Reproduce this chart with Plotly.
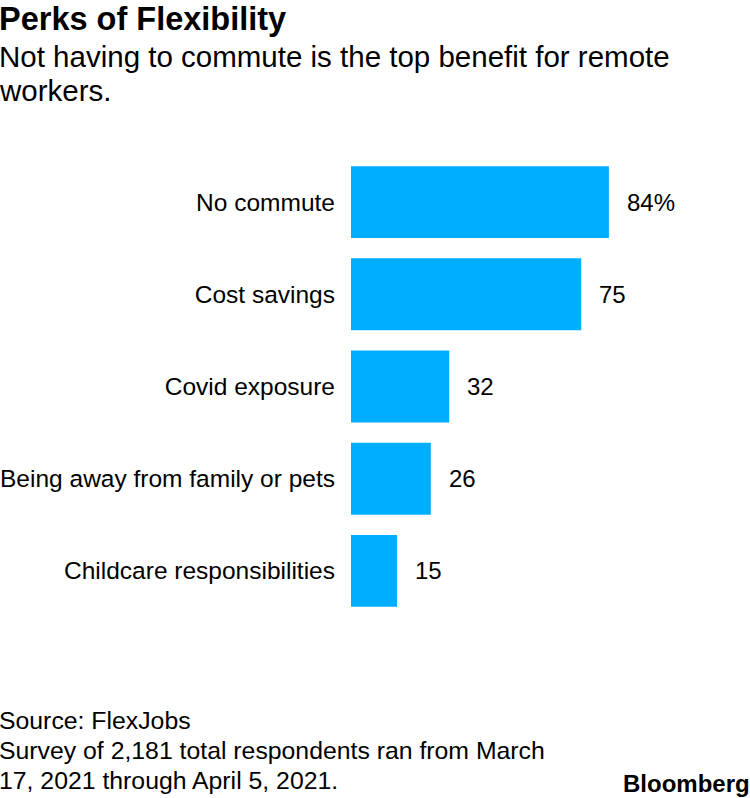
import plotly.graph_objects as go

categories = ["No commute", "Cost savings", "Covid exposure",
              "Being away from family or pets", "Childcare responsibilities"]
values = [84, 75, 32, 26, 15]
value_labels = ["84%", "75", "32", "26", "15"]

BAR_COLOR = "#00AEFF"
FONT = "Liberation Sans, Arial, Helvetica, sans-serif"

L, R, T, B = 351, 3, 156, 181
PW, PH = 750 - L - R, 798 - T - B

fig = go.Figure(go.Bar(
    x=values, y=categories, orientation="h",
    marker=dict(color=BAR_COLOR, line=dict(width=0)),
    width=0.78, hoverinfo="skip",
))

for v, c, t in zip(values, categories, value_labels):
    fig.add_annotation(x=v, y=c, text=t, showarrow=False, xanchor="left",
                       xshift=16, font=dict(size=24, color="#000", family=FONT))

fig.update_layout(
    width=750, height=798,
    margin=dict(l=L, r=R, t=T, b=B, autoexpand=False),
    paper_bgcolor="white", plot_bgcolor="white",
    showlegend=False,
    xaxis=dict(range=[0, PW / 3.07], visible=False, fixedrange=True, automargin=False),
    yaxis=dict(autorange=False, range=[4.5, -0.5], showgrid=False, zeroline=False,
               showline=False, ticks="", ticklabelstandoff=15, fixedrange=True,
               automargin=False,
               tickfont=dict(size=24.5, color="#000", family=FONT)),
)

def paper_text(x_px, y_px, text, size, anchor="left"):
    fig.add_annotation(xref="paper", yref="paper",
                       x=(x_px - L) / PW, y=(798 - B - y_px) / PH,
                       xanchor=anchor, yanchor="middle", text=text, showarrow=False,
                       align="left", font=dict(size=size, color="#000", family=FONT))

paper_text(-3, 19, "<b>Perks of Flexibility</b>", 32.5)
paper_text(-3, 56, "Not having to commute is the top benefit for remote", 29.5)
paper_text(-3, 90, "workers.", 29.5)
paper_text(-3, 720, "Source: FlexJobs", 24.8)
paper_text(-3, 750, "Survey of 2,181 total respondents ran from March", 24.8)
paper_text(-3, 780, "17, 2021 through April 5, 2021.", 24.8)
paper_text(752, 783, "<b>Bloomberg</b>", 24, anchor="right")

fig.write_html("out.html", config={"displayModeBar": False},
               post_script="document.body.style.margin='0px';")
